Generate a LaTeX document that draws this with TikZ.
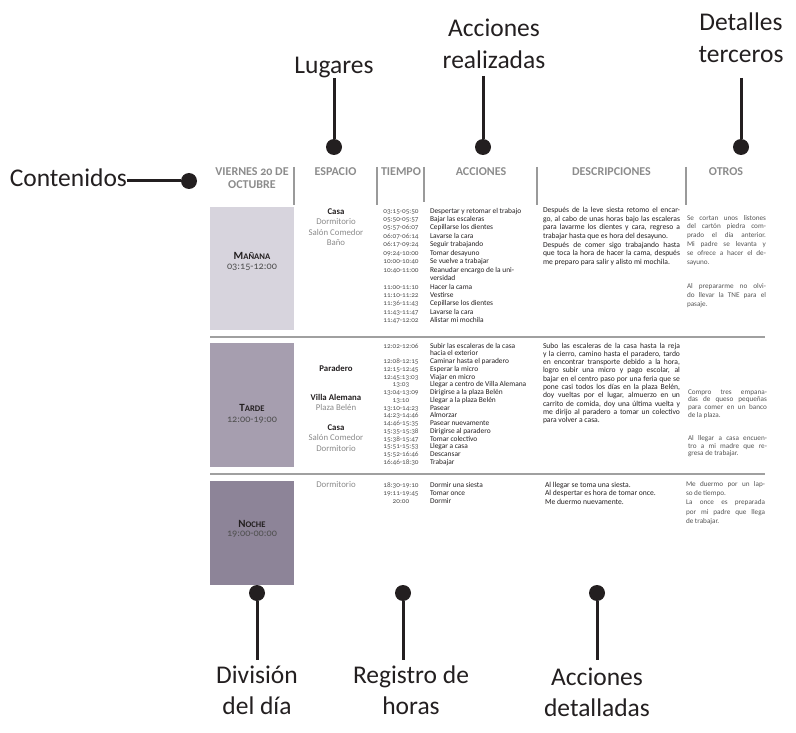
\documentclass[tikz,border=0pt]{standalone}
\usepackage{fontspec}
\setmainfont{Carlito}[Numbers=OldStyle]
\definecolor{ink}{HTML}{231F20}
\definecolor{hgray}{HTML}{8C8C8C}
\definecolor{bargray}{HTML}{9A9A9A}
\definecolor{rowgray}{HTML}{A0A0A0}
\definecolor{tgray}{HTML}{505050}
\definecolor{sgray}{HTML}{8A8A8A}
\definecolor{ogray}{HTML}{555555}
\definecolor{mcol}{HTML}{D7D4DD}
\definecolor{tcol}{HTML}{A69EAF}
\definecolor{ncol}{HTML}{8D8498}
\newcommand{\fst}[1]{\rule{0pt}{#1}}
\newcommand{\djl}[1]{\makebox[137pt][s]{#1}}
\newcommand{\ojl}[1]{\makebox[79pt][s]{#1}}
\newcommand{\fsc}[2]{{\fontsize{11}{12}\selectfont #1}{\fontsize{8.6}{9}\selectfont #2}}
\begin{document}
\begin{tikzpicture}[x=1pt,y=-1pt,
  every node/.style={inner sep=0pt, outer sep=0pt},
  annot/.style={font=\fontsize{25.5}{31.6}\selectfont, text=ink, align=center},
  dot/.style={circle, fill=ink, minimum size=16pt, inner sep=0pt},
  conn/.style={draw=ink, line width=3pt},
  hdr/.style={font=\fontsize{12}{13}\selectfont\bfseries, text=hgray, align=center},
  hbar/.style={draw=bargray, line width=2pt},
  rowline/.style={draw=rowgray, line width=1.2pt},
  daybox/.style={anchor=north west, minimum width=84pt},
  daylab/.style={font=\bfseries, text=ink},
  daytime/.style={font=\fontsize{10.2}{11}\selectfont, text=tgray},
  place/.style={font=\fontsize{8.8}{10.5}\selectfont, text=sgray, align=center},
  times/.style={text=tgray, align=center, anchor=north},
  acts/.style={text=ink, align=left, anchor=north west},
  desc/.style={text=ink, align=left, anchor=north west},
  otros/.style={text=ogray, align=left, anchor=north west},
]
\useasboundingbox (0,0) rectangle (796,733);

% ---------- header ----------
\node[hdr, anchor=north] (hdate) at (252,167) {\fst{9pt}VIERNES 20 DE\\OCTUBRE};
\node[hdr, anchor=base] (hesp) at (335.5,176) {ESPACIO};
\node[hdr, anchor=base] (htie) at (401,176) {TIEMPO};
\node[hdr, anchor=base] (hacc) at (481,176) {ACCIONES};
\node[hdr, anchor=base] (hdes) at (611.5,176) {DESCRIPCIONES};
\node[hdr, anchor=base] (hotr) at (726,176) {OTROS};
\draw[hbar] (294,167) -- (294,205);
\draw[hbar] (377,167) -- (377,205);
\draw[hbar] (424,167) -- (424,202);
\draw[hbar] (537,167) -- (537,205);
\draw[hbar] (686,167) -- (686,205);

% ---------- day boxes ----------
\node[daybox, fill=mcol, minimum height=123pt] (bman) at (210,207) {};
\node[daybox, fill=tcol, minimum height=124pt] (btar) at (210,343) {};
\node[daybox, fill=ncol, minimum height=104pt] (bnoc) at (210,481) {};
\node[daylab, anchor=base] (lman) at (252,259) {\fsc{M}{AÑANA}};
\node[daytime, anchor=base] (tman) at (252,269.5) {03:15-12:00};
\node[daylab, anchor=base] (ltar) at (252,411) {\fsc{T}{ARDE}};
\node[daytime, anchor=base] (ttar) at (252,422.5) {12:00-19:00};
\node[daylab, anchor=base] (lnoc) at (252,527) {\fsc{N}{OCHE}};
\node[daytime, anchor=base] (tnoc) at (252,536.5) {19:00-00:00};

% ---------- row separators ----------
\draw[rowline] (210,337) -- (765,337);
\draw[rowline] (210,474) -- (765,474);

% ---------- Mañana ----------
\node[place, anchor=north] (pman) at (336,207.5)
  {\fst{7pt}\textbf{\textcolor{ink}{Casa}}\\Dormitorio\\Salón Comedor\\Baño};
\node[times, font=\fontsize{7.2}{8.45}\selectfont] (hman) at (401,206)
  {\fst{7pt}03:15-05:50\\05:50-05:57\\05:57-06:07\\06:07-06:14\\06:17-09:24\\09:24-10:00\\10:00-10:40\\10:40-11:00\\\mbox{}\\11:00-11:10\\11:10-11:22\\11:36-11:43\\11:43-11:47\\11:47-12:02};
\node[acts, font=\fontsize{7.4}{8.45}\selectfont] (aman) at (430,206)
  {\fst{7pt}Despertar y retomar el trabajo\\Bajar las escaleras\\Cepillarse los dientes\\Lavarse la cara\\Seguir trabajando\\Tomar desayuno\\Se vuelve a trabajar\\Reanudar encargo de la uni-\\versidad\\Hacer la cama\\Vestirse\\Cepillarse los dientes\\Lavarse la cara\\Alistar mi mochila};
\node[desc, font=\fontsize{7.6}{8.7}\selectfont] (dman) at (543,205.5)
  {\fst{7pt}\djl{Después de la leve siesta retomo el encar-}\\
   \djl{go, al cabo de unas horas bajo las escaleras}\\
   \djl{para lavarme los dientes y cara, regreso a}\\
   trabajar hasta que es hora del desayuno.\\
   \djl{Después de comer sigo trabajando hasta}\\
   \djl{que toca la hora de hacer la cama, después}\\
   me preparo para salir y alisto mi mochila.};
\node[otros, font=\fontsize{7.2}{8.9}\selectfont] (oman) at (687,213)
  {\fst{7pt}\ojl{Se cortan unos listones}\\
   \ojl{del cartón piedra com-}\\
   \ojl{prado el día anterior.}\\
   \ojl{Mi padre se levanta y}\\
   \ojl{se ofrece a hacer el de-}\\
   sayuno.\\[15pt]
   \ojl{Al prepararme no olvi-}\\
   \ojl{do llevar la TNE para el}\\
   pasaje.};

% ---------- Tarde ----------
\node[place, anchor=base, font=\fontsize{8.8}{10.5}\selectfont\bfseries, text=ink] (ptar1) at (336,371) {Paradero};
\node[place, anchor=north] (ptar2) at (336,393)
  {\fst{7pt}\textbf{\textcolor{ink}{Villa Alemana}}\\Plaza Belén};
\node[place, anchor=north] (ptar3) at (336,423)
  {\fst{7pt}\textbf{\textcolor{ink}{Casa}}\\Salón Comedor\\Dormitorio};
\node[times, font=\fontsize{7.2}{7.75}\selectfont] (htar) at (401,341)
  {\fst{7pt}12:02-12:06\\\mbox{}\\12:08-12:15\\12:15-12:45\\12:45:13:03\\13:03\\13:04-13:09\\13:10\\13:10-14:23\\14:23-14:46\\14:46-15:35\\15:35-15:38\\15:38-15:47\\15:51-15:53\\15:52-16:46\\16:46-18:30};
\node[acts, font=\fontsize{7.4}{7.75}\selectfont] (atar) at (430,341)
  {\fst{7pt}Subir las escaleras de la casa\\hacia el exterior\\Caminar hasta el paradero\\Esperar la micro\\Viajar en  micro\\Llegar a centro de Villa Alemana\\Dirigirse a la plaza Belén\\Llegar a la plaza Belén\\Pasear\\Almorzar\\Pasear nuevamente\\Dirigirse al paradero\\Tomar colectivo\\Llegar a casa\\Descansar\\Trabajar};
\node[desc, font=\fontsize{7.6}{8.3}\selectfont] (dtar) at (543,341)
  {\fst{7pt}\djl{Subo las escaleras de la casa hasta la reja}\\
   \djl{y la cierro, camino hasta el paradero, tardo}\\
   \djl{en encontrar transporte debido a la hora,}\\
   \djl{logro subir una micro y pago escolar, al}\\
   \djl{bajar en el centro paso por una feria que se}\\
   \djl{pone casi todos los días en la plaza Belén,}\\
   \djl{doy vueltas por el lugar, almuerzo en un}\\
   \djl{carrito de comida, doy una última vuelta y}\\
   \djl{me dirijo al paradero a tomar un colectivo}\\
   para volver a casa.};
\node[otros, font=\fontsize{7.2}{7.8}\selectfont] (otar) at (688,387)
  {\fst{7pt}\ojl{Compro tres empana-}\\
   \ojl{das de queso pequeñas}\\
   \ojl{para comer en un banco}\\
   de la plaza.\\[15pt]
   \ojl{Al llegar a casa encuen-}\\
   \ojl{tro a mi madre que re-}\\
   gresa de trabajar.};

% ---------- Noche ----------
\node[place, anchor=base] (pnoc) at (336,487.5) {Dormitorio};
\node[times, font=\fontsize{7.2}{8}\selectfont] (hnoc) at (401,480)
  {\fst{7pt}18:30-19:10\\19:11-19:45\\20:00};
\node[acts, font=\fontsize{7.4}{8}\selectfont] (anoc) at (430,480)
  {\fst{7pt}Dormir una siesta\\Tomar once\\Dormir};
\node[desc, font=\fontsize{7.6}{8.5}\selectfont] (dnoc) at (545,480)
  {\fst{7pt}Al llegar se toma una siesta.\\Al despertar es hora de tomar once.\\Me duermo nuevamente.};
\node[otros, font=\fontsize{7.2}{9.4}\selectfont] (onoc) at (686,479)
  {\fst{7pt}\ojl{Me duermo por un lap-}\\
   so de tiempo.\\
   \ojl{La once es preparada}\\
   \ojl{por mi padre que llega}\\
   de trabajar.};

% ---------- annotations ----------
\node[annot, anchor=base east] (acont) at (127,187) {Contenidos};
\node[dot] (dcont) at (189,181) {};
\draw[conn] (acont.east |- dcont) -- (dcont);

\node[annot, anchor=base] (alug) at (334,74) {Lugares};
\node[dot] (dlug) at (334,147) {};
\draw[conn] (alug.south) -- (dlug);

\node[annot, anchor=north] (aacc) at (494,18) {\fst{19pt}Acciones\\realizadas};
\node[dot] (dacc) at (483,147) {};
\draw[conn, shorten <=7pt] (dacc |- aacc.south) -- (dacc);

\node[annot, anchor=north] (adet) at (741,12) {\fst{19pt}Detalles\\terceros};
\node[dot] (ddet) at (741,147) {};
\draw[conn, shorten <=15pt] (adet.south) -- (ddet);

\node[annot, anchor=north] (adiv) at (257,660) {\fst{23pt}División\\del día};
\node[dot] (ddiv) at (257,593) {};
\draw[conn] (ddiv) -- (adiv.north);

\node[annot, anchor=north] (areg) at (411,660) {\fst{23pt}Registro de\\horas};
\node[dot] (dreg) at (403,593) {};
\draw[conn] (dreg) -- (dreg |- areg.north);

\node[annot, anchor=north] (adetl) at (597,662) {\fst{23pt}Acciones\\detalladas};
\node[dot] (dadet) at (597,593) {};
\draw[conn] (dadet) -- ([yshift=2pt]adetl.north);
\end{tikzpicture}
\end{document}
